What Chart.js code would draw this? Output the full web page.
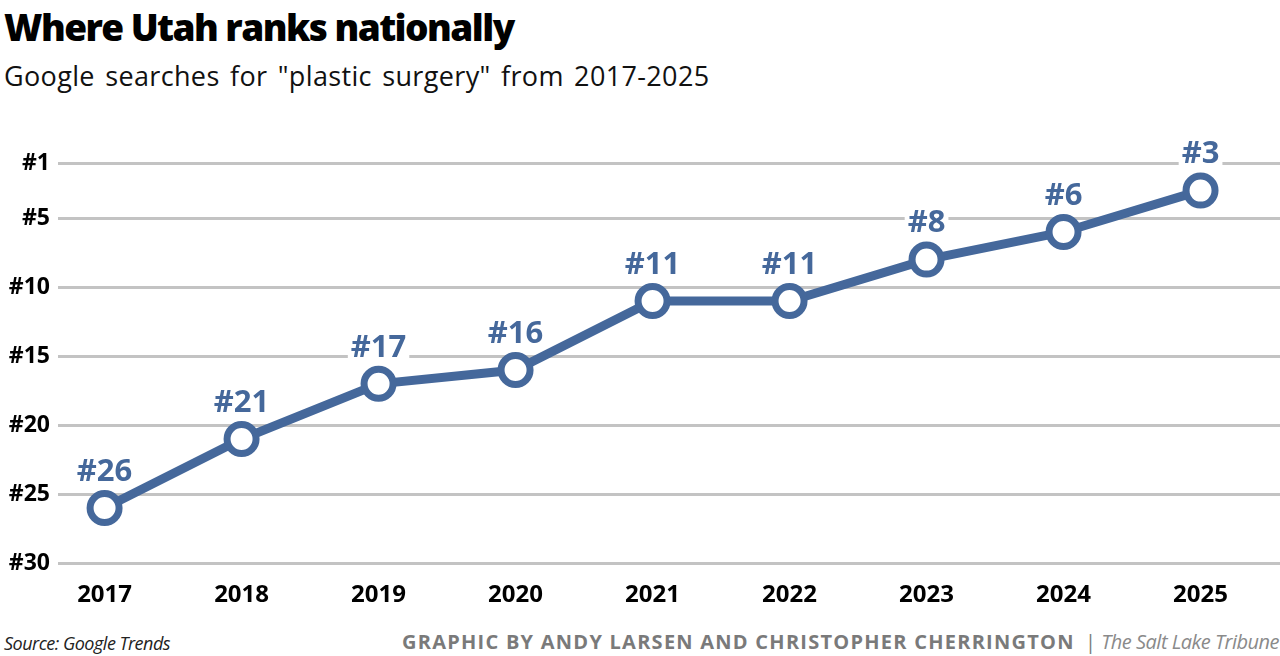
<!DOCTYPE html>
<html>
<head>
<meta charset="utf-8">
<script src="https://cdn.jsdelivr.net/npm/chart.js@4.4.1/dist/chart.umd.min.js"></script>
<style>
  html,body{margin:0;padding:0;background:#fff;width:1280px;height:656px;overflow:hidden;}
  #title{position:absolute;left:4px;top:5px;font-family:"Open Sans",sans-serif;font-weight:800;font-size:37px;letter-spacing:-1.55px;color:#000;line-height:44px;white-space:nowrap;}
  #subtitle{position:absolute;left:4px;top:58px;font-family:"Open Sans",sans-serif;font-weight:400;font-size:27px;letter-spacing:0.35px;word-spacing:3px;color:#111;line-height:36px;white-space:nowrap;}
  #wrap{position:absolute;left:0;top:130px;width:1280px;height:490px;}
  #source{position:absolute;left:4px;top:631px;font-family:"Open Sans",sans-serif;font-style:italic;font-size:18px;letter-spacing:-0.5px;color:#222;white-space:nowrap;}
  #credit{position:absolute;right:1px;top:628px;font-family:"Open Sans",sans-serif;font-size:20px;color:#7a7a7a;white-space:nowrap;}
  #credit b{font-weight:700;letter-spacing:1.25px;}
  #credit i{letter-spacing:-0.5px;color:#8a8a8a;}
</style>
</head>
<body>
<div id="title">Where Utah ranks nationally</div>
<div id="subtitle">Google searches for "plastic surgery" from 2017-2025</div>
<div id="wrap"><canvas id="c" width="1280" height="490"></canvas></div>
<div id="source">Source: Google Trends</div>
<div id="credit"><b>GRAPHIC BY ANDY LARSEN AND CHRISTOPHER CHERRINGTON</b> &nbsp;| <i>The Salt Lake Tribune</i></div>
<script>
const years = ["2017","2018","2019","2020","2021","2022","2023","2024","2025"];
const ranks = [26, 21, 17, 16, 11, 11, 8, 6, 3];
const rankTicks = [1, 5, 10, 15, 20, 25, 30];

const BLUE = "#45689b";

const labelPlugin = {
  id: "rankLabels",
  beforeDatasetsDraw(chart) {
    const ctx = chart.ctx;
    const meta = chart.getDatasetMeta(0);
    ctx.save();
    ctx.font = "bold 31px 'Open Sans', sans-serif";
    ctx.textAlign = "center";
    ctx.textBaseline = "middle";
    meta.data.forEach((pt, i) => {
      const txt = "#" + ranks[i];
      const w = ctx.measureText(txt).width;
      const x = pt.x, y = pt.y - 36;
      ctx.fillStyle = "#fff";
      ctx.fillRect(x - w / 2 - 3, y - 15, w + 6, 30);
      ctx.fillStyle = BLUE;
      ctx.fillText(txt, x, y);
    });
    ctx.restore();
  }
};

new Chart(document.getElementById("c"), {
  type: "line",
  data: {
    datasets: [{
      data: ranks.map((r, i) => ({ x: i, y: r })),
      borderColor: BLUE,
      borderWidth: 9,
      pointRadius: 14.5,
      pointBorderWidth: 7,
      pointBackgroundColor: "#fff",
      pointBorderColor: BLUE,
      tension: 0,
      clip: false
    }]
  },
  options: {
    responsive: false,
    animation: false,
    events: [],
    layout: { autoPadding: false, padding: { top: 33, right: 0, left: 0, bottom: 0 } },
    plugins: { legend: { display: false }, tooltip: { enabled: false } },
    scales: {
      x: {
        type: "linear",
        min: -0.34,
        max: 8.58,
        afterBuildTicks(s) { s.ticks = years.map((_, i) => ({ value: i })); },
        afterFit(s) { s.paddingLeft = 0; s.paddingRight = 0; },
        grid: { display: false },
        border: { display: false },
        ticks: {
          color: "#000",
          font: { family: "'Open Sans', sans-serif", weight: "bold", size: 24 },
          padding: 10,
          maxRotation: 0,
          autoSkip: false,
          callback: (v) => years[v]
        }
      },
      y: {
        type: "linear",
        reverse: true,
        min: 1,
        max: 30,
        afterBuildTicks(s) { s.ticks = rankTicks.map(v => ({ value: v })); },
        afterFit(s) { s.width = 58; },
        grid: { color: "#c3c3c3", lineWidth: 3, drawTicks: false },
        border: { display: false },
        ticks: {
          color: "#000",
          font: { family: "'Open Sans', sans-serif", weight: "bold", size: 23 },
          padding: 8,
          callback: (v) => "#" + v
        }
      }
    }
  },
  plugins: [labelPlugin]
});
</script>
</body>
</html>
